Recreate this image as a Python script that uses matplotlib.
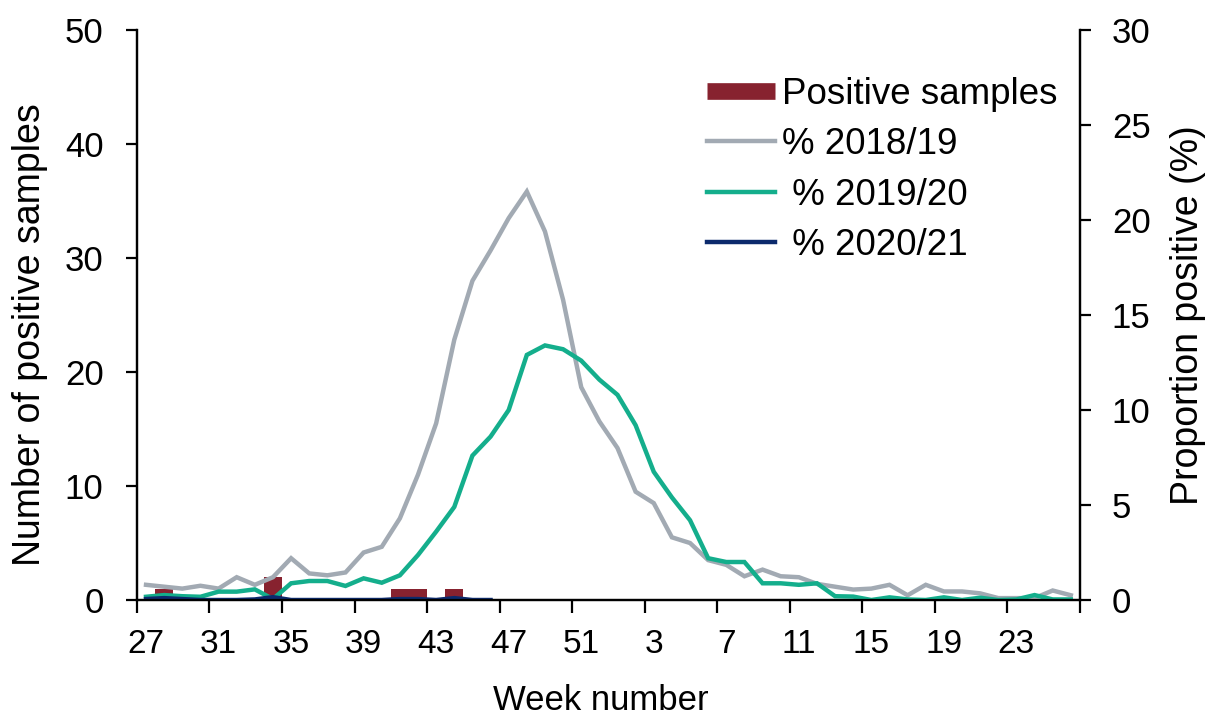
import numpy as np
import matplotlib
matplotlib.use("Agg")
import matplotlib.pyplot as plt
from matplotlib.lines import Line2D

plt.rcParams['font.family'] = ['Liberation Sans', 'DejaVu Sans']

# season runs from week 27 to week 26 of the next year
weeks = list(range(27, 53)) + list(range(1, 27))

# proportion positive (%) per week
pct_2018_19 = [0.8, 0.7, 0.6, 0.75, 0.6, 1.2, 0.8, 1.2, 2.2, 1.4, 1.3, 1.45, 2.5,
               2.8, 4.3, 6.6, 9.3, 13.7, 16.8, 18.4, 20.1, 21.5, 19.4, 15.8, 11.2, 9.4,
               8.0, 5.7, 5.1, 3.3, 3.0, 2.1, 1.85, 1.25, 1.6, 1.25, 1.2, 0.85, 0.7,
               0.55, 0.6, 0.8, 0.25, 0.8, 0.45, 0.45, 0.35, 0.1, 0.1, 0.1, 0.5, 0.25]
pct_2019_20 = [0.17, 0.26, 0.2, 0.17, 0.44, 0.44, 0.56, 0.05, 0.88, 1.0, 1.0, 0.74, 1.14,
               0.91, 1.3, 2.37, 3.6, 4.9, 7.6, 8.6, 10.0, 12.9, 13.4, 13.2, 12.6, 11.6,
               10.8, 9.2, 6.75, 5.4, 4.2, 2.2, 2.0, 2.0, 0.88, 0.88, 0.8, 0.88, 0.2,
               0.18, 0.0, 0.14, 0.03, 0.0, 0.14, 0.0, 0.12, 0.0, 0.03, 0.26, 0.03, 0.03]
# current season so far (weeks 27-46)
pct_2020_21 = [0.05, 0.1, 0.05, 0.0, 0.0, 0.0, 0.03, 0.15, 0.0, 0.0, 0.0, 0.0, 0.0,
               0.0, 0.05, 0.05, 0.0, 0.1, 0.0, 0.0]
positive_samples = [0, 1, 0, 0, 0, 0, 0, 2, 0, 0, 0, 0, 0, 0, 1, 1, 0, 1, 0, 0]

bar_col = '#87222F'
grey_col = '#A2AAB3'
green_col = '#14AE8C'
navy_col = '#0C2A6C'

fig = plt.figure(figsize=(12.12, 7.16), dpi=100)
ax = fig.add_axes([0.113, 0.162, 0.778, 0.796])
ax2 = ax.twinx()

x_all = np.arange(len(weeks))
x_cur = np.arange(len(pct_2020_21))

ax.bar(x_cur, positive_samples, width=1.0, color=bar_col, zorder=2)

lw = 3.2
ax2.plot(x_all, pct_2018_19, color=grey_col, lw=lw, solid_joinstyle='miter')
ax2.plot(x_all, pct_2019_20, color=green_col, lw=lw, solid_joinstyle='miter')
ax2.plot(x_cur, pct_2020_21, color=navy_col, lw=lw, solid_joinstyle='miter')

ax.set_xlim(-0.5, len(weeks) - 0.5)
ax.set_ylim(0, 50)
ax2.set_ylim(0, 30)

# tick marks sit between categories, labels on every fourth week
ax.set_xticks(np.arange(-0.5, len(weeks), 4))
ax.set_xticklabels([])
ax.set_xticks(x_all[::4], minor=True)
ax.set_xticklabels([str(w) for w in weeks[::4]], minor=True)
ax.tick_params(axis='x', which='major', direction='out', length=9, width=1.6)
ax.tick_params(axis='x', which='minor', length=0, labelsize=24, pad=21)

ax.set_yticks(np.arange(0, 51, 10))
ax2.set_yticks(np.arange(0, 31, 5))
ax.tick_params(axis='y', direction='out', length=8, width=1.6, labelsize=25, pad=16)
ax2.tick_params(axis='y', direction='out', length=8, width=1.6, labelsize=25, pad=15)

for a in (ax, ax2):
    a.spines['top'].set_visible(False)
    for s in ('left', 'right', 'bottom'):
        a.spines[s].set_linewidth(1.6)

ax.set_ylabel('Number of positive samples', fontsize=27)
ax.yaxis.set_label_coords(-0.094, 0.465)
ax2.set_ylabel('Proportion positive (%)', fontsize=27)
ax2.yaxis.set_label_coords(1.0955, 0.5)
ax.set_xlabel('Week number', fontsize=25)
ax.xaxis.set_label_coords(0.492, -0.148)

handles = [
    Line2D([], [], color=bar_col, lw=12, solid_capstyle='butt'),
    Line2D([], [], color=grey_col, lw=lw),
    Line2D([], [], color=green_col, lw=lw),
    Line2D([], [], color=navy_col, lw=lw),
]
labels = ['Positive samples', '% 2018/19', ' % 2019/20', ' % 2020/21']
ax2.legend(handles, labels, loc='upper left', bbox_to_anchor=(0.6045, 0.918),
           frameon=False, fontsize=26.5, handlelength=1.85, handletextpad=0.2,
           borderaxespad=0, borderpad=0, labelspacing=0.42)

fig.savefig('out.png', dpi=100)
